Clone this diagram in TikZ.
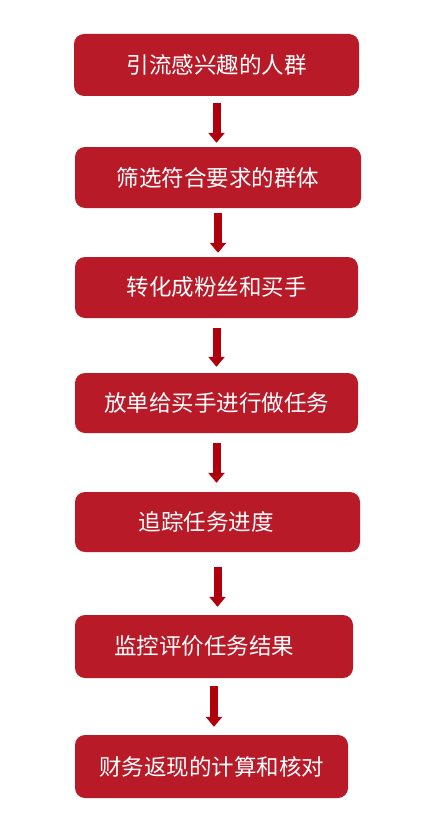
\documentclass[tikz,border=0pt]{standalone}
\usepackage{fontspec}
\newfontfamily\cjk{Noto Sans CJK SC}
\usetikzlibrary{arrows.meta,positioning}
\definecolor{boxred}{RGB}{184, 26, 40}
\definecolor{arrowred}{RGB}{176, 0, 12}
\tikzstyle{block} = [rectangle, fill=boxred, text=white, rounded corners=10pt,
  inner sep=0pt, font=\cjk\fontsize{22.5pt}{26pt}\selectfont]
\tikzstyle{line} = [draw, line width=8pt, color=arrowred, -{Triangle[width=16pt,length=10pt]}]

\begin{document}
\begin{tikzpicture}[x=1pt,y=-1pt]
  \useasboundingbox (0,0) rectangle (440,832);
  \node [block, minimum width=285pt, minimum height=62pt] (1) at (216.5,65) {引流感兴趣的人群};
  \node [block, minimum width=286pt, minimum height=61pt] (2) at (218,177.5) {筛选符合要求的群体};
  \node [block, minimum width=283pt, minimum height=61pt] (3) at (216.5,287.5) {转化成粉丝和买手};
  \node [block, minimum width=283pt, minimum height=60pt] (4) at (216.5,403) {放单给买手进行做任务};
  \node [block, minimum width=285pt, minimum height=60pt] (5) at (217.5,522) {追踪任务进度\hspace*{23pt}};
  \node [block, minimum width=278pt, minimum height=63pt] (6) at (214,646.5) {监控评价任务结果\hspace*{20pt}};
  \node [block, minimum width=273pt, minimum height=63pt] (7) at (211.5,766.5) {财务返现的计算和核对};

  \path [line, shorten <=7pt, shorten >=4pt] (1.south) -- (1.south |- 2.north);
  \path [line, shorten <=5pt, shorten >=4pt] (2.south) -- (2.south |- 3.north);
  \path [line, shorten <=10pt, shorten >=6pt] (3.south) -- (3.south |- 4.north);
  \path [line, shorten <=10pt, shorten >=9pt] (4.south) -- (4.south |- 5.north);
  \path [line, shorten <=15pt, shorten >=8pt] (5.south) -- (5.south |- 6.north);
  \path [line, shorten <=8pt, shorten >=8pt] (6.south) -- (6.south |- 7.north);
\end{tikzpicture}
\end{document}
